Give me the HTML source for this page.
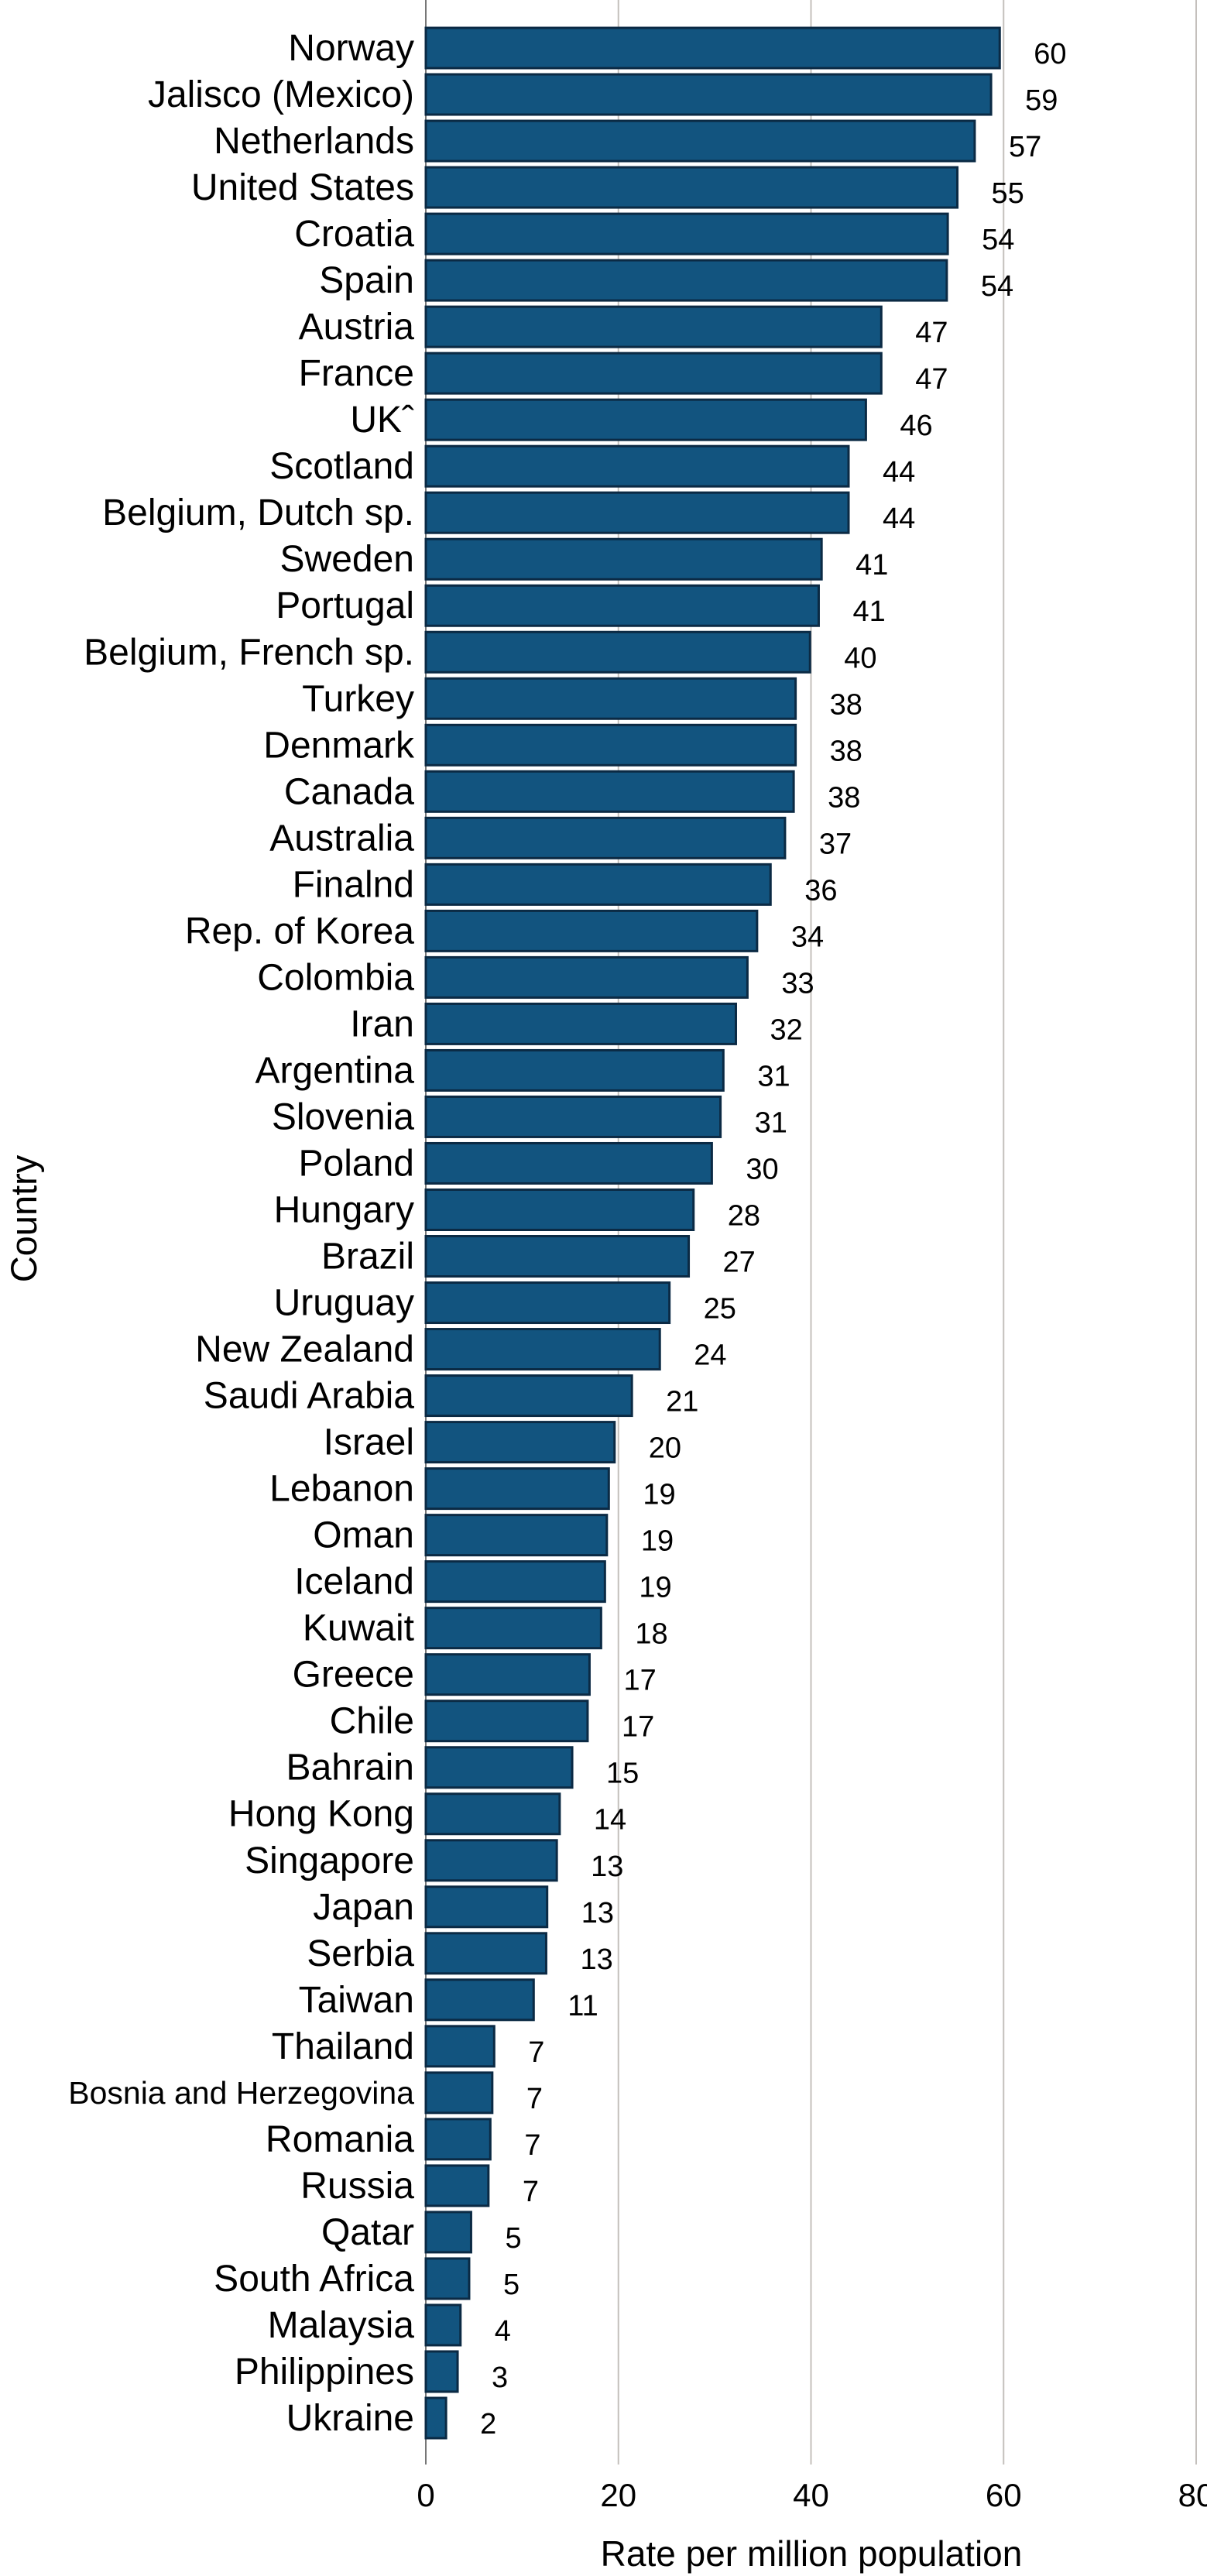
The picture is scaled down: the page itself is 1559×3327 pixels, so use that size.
<!DOCTYPE html>
<html><head><meta charset="utf-8"><style>
html,body{margin:0;padding:0;background:#fff;}
svg{display:block;font-family:"Liberation Sans",sans-serif;}
</style></head><body>
<svg id="chart" width="1559" height="3327" viewBox="0 0 1559 3327" xmlns="http://www.w3.org/2000/svg"></svg>
<script>
const categories = ["Norway","Jalisco (Mexico)","Netherlands","United States","Croatia","Spain","Austria","France","UKˆ","Scotland","Belgium, Dutch sp.","Sweden","Portugal","Belgium, French sp.","Turkey","Denmark","Canada","Australia","Finalnd","Rep. of Korea","Colombia","Iran","Argentina","Slovenia","Poland","Hungary","Brazil","Uruguay","New Zealand","Saudi Arabia","Israel","Lebanon","Oman","Iceland","Kuwait","Greece","Chile","Bahrain","Hong Kong","Singapore","Japan","Serbia","Taiwan","Thailand","Bosnia and Herzegovina","Romania","Russia","Qatar","South Africa","Malaysia","Philippines","Ukraine"];
const values = [59.6,58.7,57.0,55.2,54.2,54.1,47.3,47.3,45.7,43.9,43.9,41.1,40.8,39.9,38.4,38.4,38.2,37.3,35.8,34.4,33.4,32.2,30.9,30.6,29.7,27.8,27.3,25.3,24.3,21.4,19.6,19.0,18.8,18.6,18.2,17.0,16.8,15.2,13.9,13.6,12.6,12.5,11.2,7.1,6.9,6.7,6.5,4.7,4.5,3.6,3.3,2.1];
const valueLabels = ["60","59","57","55","54","54","47","47","46","44","44","41","41","40","38","38","38","37","36","34","33","32","31","31","30","28","27","25","24","21","20","19","19","19","18","17","17","15","14","13","13","13","11","7","7","7","7","5","5","4","3","2"];
const xTicks = [0,20,40,60,80];

const NS="http://www.w3.org/2000/svg";
const svg=document.getElementById('chart');
const x0=550, pxPerUnit=(1545-550)/80;
const xScale=v=>x0+v*pxPerUnit;
const top0=36, pitch=(3097-36)/(categories.length-1), barH=52;
const yScale=i=>top0+i*pitch;
function mk(tag,attrs){const e=document.createElementNS(NS,tag);for(const k in attrs)e.setAttribute(k,attrs[k]);svg.appendChild(e);return e;}

xTicks.forEach(t=>{
  const g=mk('line',{x1:xScale(t),x2:xScale(t),y1:0,y2:3183,stroke:t===0?'#777':'#c4c0bc','stroke-width':2});
  
  
  const tl=mk('text',{x:xScale(t),y:3237,'font-size':42,'text-anchor':'middle',fill:'#000'});
  tl.textContent=t;
  
  
});

categories.forEach((c,i)=>{
  const y=yScale(i);
  const b=mk('rect',{x:x0,y:y,width:xScale(values[i])-x0,height:barH,fill:'#12547f',stroke:'#0b2a44','stroke-width':3});
  
  
  const small=c.length>20;
  const l=mk('text',{x:535,y:y+barH/2+(small?14:16),'font-size':small?41:48,'text-anchor':'end',fill:'#000'});
  l.textContent=c;
  
  
  const v=mk('text',{x:xScale(values[i])+44,y:y+barH/2+20,'font-size':38,'text-anchor':'start',fill:'#000'});
  v.textContent=valueLabels[i];
  
  
});

const xt=mk('text',{x:1048,y:3314,'font-size':46,'text-anchor':'middle',fill:'#000'});
xt.textContent='Rate per million population';


const yt=mk('text',{x:0,y:0,'font-size':47,'text-anchor':'middle',fill:'#000',transform:'translate(47,1574) rotate(-90)'});
yt.textContent='Country';


</script>
</body></html>
